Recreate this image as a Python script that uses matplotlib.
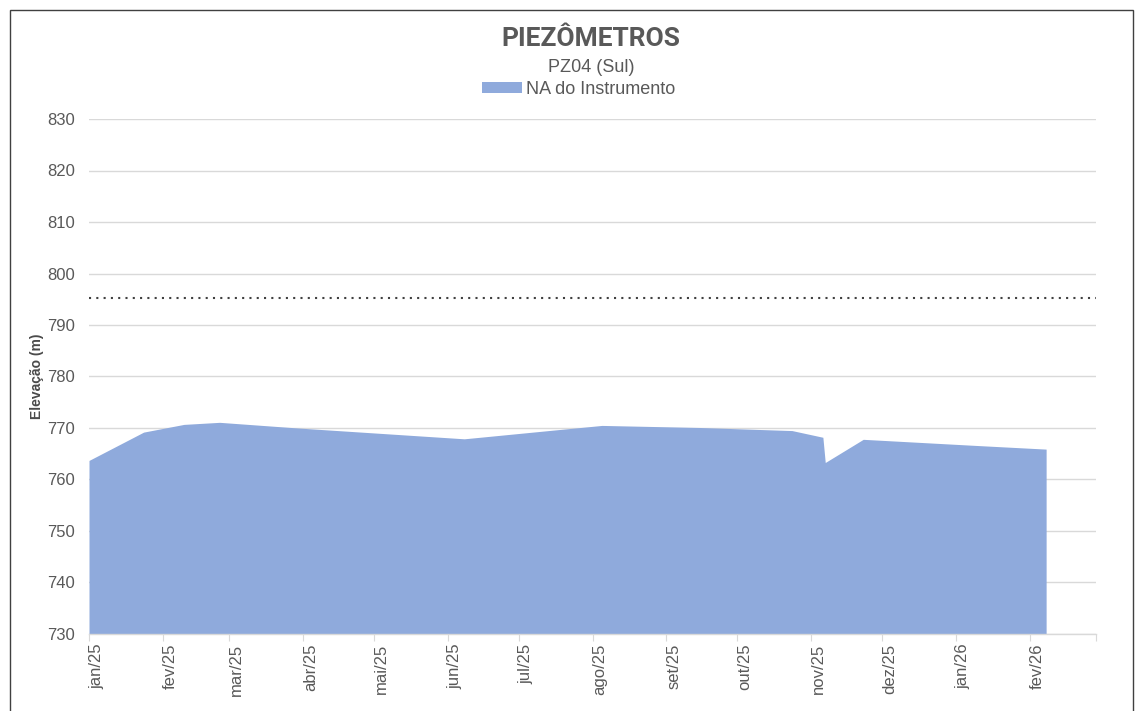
import matplotlib
matplotlib.use("Agg")
import matplotlib.pyplot as plt
from matplotlib.patches import Patch, Rectangle
import numpy as np
import pandas as pd

# ---- data ----
dates = ['2025-01-01', '2025-01-24', '2025-02-10', '2025-02-25', '2025-03-30',
         '2025-06-08', '2025-07-18', '2025-08-05', '2025-09-15', '2025-10-24',
         '2025-11-06', '2025-11-07', '2025-11-23', '2026-01-10', '2026-02-08']
na_values = [763.7, 769.2, 770.7, 771.1, 770.0,
             767.9, 769.7, 770.5, 770.1, 769.5,
             768.2, 763.3, 767.8, 766.6, 765.9]
limit_level = 795.3
month_labels = ['jan/25', 'fev/25', 'mar/25', 'abr/25', 'mai/25', 'jun/25', 'jul/25',
                'ago/25', 'set/25', 'out/25', 'nov/25', 'dez/25', 'jan/26', 'fev/26', '']
x_start, x_end = '2025-01-01', '2026-03-01'
y_min, y_max, y_step = 730, 830, 10

title = 'PIEZÔMETROS'
subtitle = 'PZ04 (Sul)'
series_name = 'NA do Instrumento'
ylabel = 'Elevação (m)'

# ---- style ----
plt.rcParams['font.family'] = ['Liberation Sans', 'DejaVu Sans']
fill_color = '#8FAADC'
text_color = '#595959'
grid_color = '#D9D9D9'

W, H = 1136, 711
fig = plt.figure(figsize=(W / 100, H / 100), dpi=100)
ax = fig.add_axes([89 / W, 1 - 634 / H, (1096 - 89) / W, (634 - 119) / H])

x = pd.to_datetime(dates)
ax.fill_between(x, na_values, y_min, color=fill_color, linewidth=0, zorder=2)
ax.plot(pd.to_datetime([x_start, x_end]), [limit_level, limit_level],
        color='#404040', linewidth=1.5, linestyle=(0, (1, 2.5)), zorder=3)

ax.set_xlim(pd.Timestamp(x_start), pd.Timestamp(x_end))
ax.set_ylim(y_min, y_max)
ax.set_yticks(np.arange(y_min, y_max + 1, y_step))
ticks = pd.date_range(x_start, x_end, freq='MS')
ax.set_xticks(ticks)
ax.set_xticklabels(month_labels, rotation=90, va='top', ha='left')

ax.grid(axis='y', color=grid_color, linewidth=1, zorder=0)
ax.set_axisbelow(True)
for s in ['top', 'right', 'left']:
    ax.spines[s].set_visible(False)
ax.spines['bottom'].set_color(grid_color)
ax.spines['bottom'].set_linewidth(1)
ax.spines['bottom'].set_zorder(4)
ax.tick_params(axis='y', length=0, labelsize=12, labelcolor=text_color, pad=10)
ax.tick_params(axis='x', length=5, color=grid_color, labelsize=12,
               labelcolor=text_color, pad=2)

ax.set_ylabel(ylabel, fontsize=10, fontweight='bold', color='#4a4a4a', labelpad=2)

fig.text(591 / W, 1 - 39 / H, title, ha='center', va='center', fontsize=19,
         fontweight='bold', color=text_color, family=['Roboto', 'DejaVu Sans'])
fig.text(591 / W, 1 - 68 / H, subtitle, ha='center', va='center', fontsize=13,
         color=text_color)
fig.legend(handles=[Patch(facecolor=fill_color, edgecolor='none', label=series_name)],
           loc='center', bbox_to_anchor=(579 / W, 1 - 89 / H), frameon=False,
           fontsize=13, labelcolor=text_color, handlelength=2.2, handleheight=0.55,
           handletextpad=0.25, borderpad=0)

fig.patches.append(Rectangle((10 / W, -0.05), (1133 - 10) / W, 1.05 - 9.5 / H,
                             transform=fig.transFigure, fill=False,
                             edgecolor='#404040', linewidth=1))

fig.savefig('out.png', dpi=100)
